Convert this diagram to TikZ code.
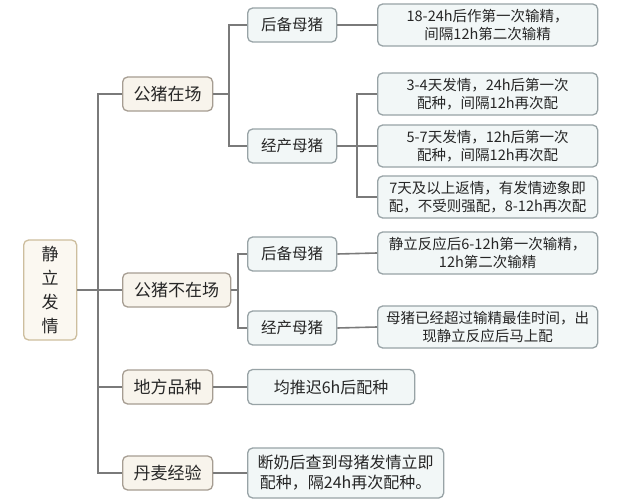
\documentclass[tikz,border=0pt]{standalone}
\usepackage{fontspec}
\setmainfont{Noto Sans CJK SC}
\usetikzlibrary{positioning,calc}

\definecolor{linkgray}{HTML}{7A7A7A}
\definecolor{rootline}{HTML}{CDBE9E}
\definecolor{rootfill}{HTML}{FBF8F1}
\definecolor{topicline}{HTML}{A69D92}
\definecolor{topicfill}{HTML}{F8F4EC}
\definecolor{subline}{HTML}{98A3A6}
\definecolor{subfill}{HTML}{F2F7F7}
\definecolor{inktext}{HTML}{262626}

\tikzset{
  box/.style={draw, rounded corners=5pt, line width=1.3pt, inner sep=2pt,
              text=inktext, align=center, anchor=west},
  rootbox/.style={box, draw=rootline, fill=rootfill, minimum width=53pt,
              minimum height=100pt, font=\fontsize{17}{24}\selectfont},
  topicbox/.style={box, draw=topicline, fill=topicfill, minimum height=34pt,
              font=\fontsize{17}{20}\selectfont},
  subbox/.style={box, draw=subline, fill=subfill, minimum width=89pt,
              minimum height=34pt, font=\fontsize{15.5}{19}\selectfont},
  leafbox/.style={box, draw=subline, fill=subfill, minimum width=220pt,
              minimum height=42pt, font=\fontsize{14.5}{18}\selectfont},
  link/.style={draw=linkgray, line width=1.6pt}
}

\begin{document}
\begin{tikzpicture}[x=1pt,y=-1pt]
  \useasboundingbox (0,0) rectangle (628,500);
  \fill[white] (0,0) rectangle (628,500);

  % root and trunk
  \node[rootbox] (root) at (23,290) {静\\立\\发\\情};
  \coordinate (trunk) at (98,0);

  % first level
  \node[topicbox, minimum width=90pt]  (zaichang) at (122,94)  {公猪在场};
  \node[topicbox, minimum width=108pt] (buzai)    at (122,290) {公猪不在场};
  \node[topicbox, minimum width=90pt]  (difang)   at (122,387) {地方品种};
  \node[topicbox, minimum width=90pt]  (danmai)   at (122,473) {丹麦经验};

  % second level
  \node[subbox] (houbeiA)   at (247,25)  {后备母猪};
  \node[subbox] (jingchanA) at (247,146) {经产母猪};
  \node[subbox] (houbeiB)   at (247,254) {后备母猪};
  \node[subbox] (jingchanB) at (247,328) {经产母猪};

  % leaves
  \node[leafbox] (peiA) at (377,25)  {18-24h后作第一次输精，\\间隔12h第二次输精};
  \node[leafbox] (peiB) at (377,94)  {3-4天发情，24h后第一次\\配种，间隔12h再次配};
  \node[leafbox] (peiC) at (377,146) {5-7天发情，12h后第一次\\配种，间隔12h再次配};
  \node[leafbox] (peiD) at (377,197) {7天及以上返情，有发情迹象即\\配，不受则强配，8-12h再次配};
  \node[leafbox] (peiE) at (377,253) {静立反应后6-12h第一次输精，\\12h第二次输精};
  \node[leafbox] (peiF) at (377,327) {母猪已经超过输精最佳时间，出\\现静立反应后马上配};
  \node[leafbox, minimum width=167pt, minimum height=35pt,
        font=\fontsize{16}{19}\selectfont] (peiG) at (247,387) {均推迟6h后配种};
  \node[leafbox, minimum width=196pt, minimum height=50pt,
        font=\fontsize{16}{20}\selectfont] (peiH) at (247,473) {断奶后查到母猪发情立即\\配种，隔24h再次配种。};

  % connectors
  \draw[link] (zaichang.west) -| (trunk |- danmai.west) -- (danmai.west);
  \draw[link] (root.east) -- (buzai.west);
  \draw[link] (trunk |- difang.west) -- (difang.west);

  \draw[link] (zaichang.east) -- ++(17,0);
  \draw[link] (houbeiA.west) -- ++(-18,0) |- (jingchanA.west);
  \draw[link] (houbeiA.east) -- (peiA.west);
  \draw[link] (jingchanA.east) -- (peiC.west);
  \draw[link] (peiB.west) -- ++(-20,0) |- (peiD.west);

  \draw[link] (buzai.east) -- ++(8,0);
  \draw[link] (houbeiB.west) -- ++(-9,0) |- (jingchanB.west);
  \draw[link] (houbeiB.east) -- (peiE.west);
  \draw[link] (jingchanB.east) -- (peiF.west);

  \draw[link] (difang.east) -- (peiG.west);
  \draw[link] (danmai.east) -- (peiH.west);
\end{tikzpicture}
\end{document}
